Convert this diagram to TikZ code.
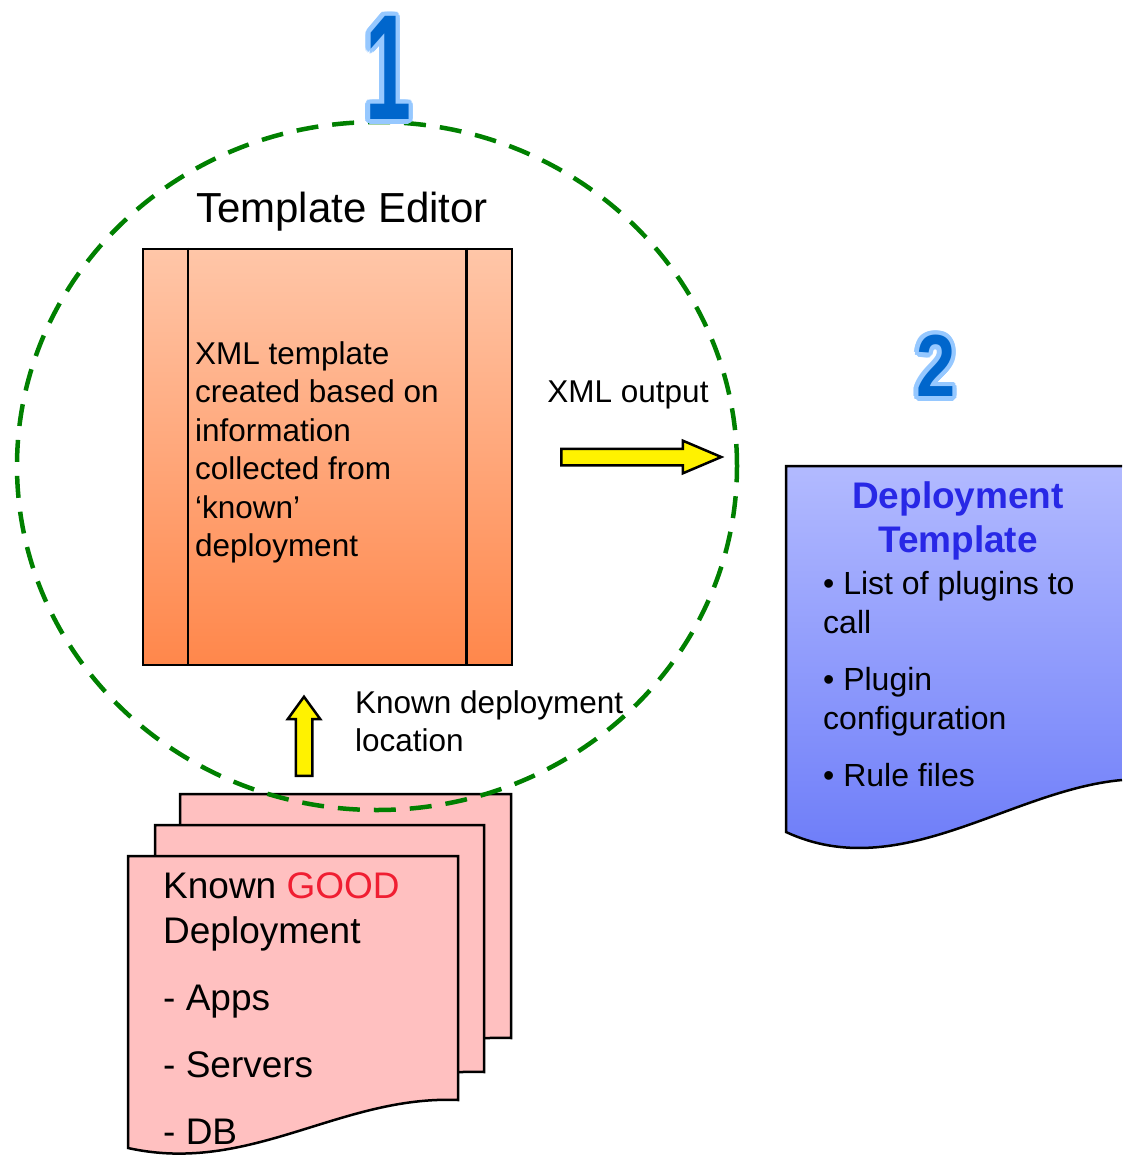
\documentclass[tikz,border=0pt]{standalone}
\usepackage{fontspec}
\setmainfont{Liberation Sans}
\usetikzlibrary{shapes.arrows,shapes.geometric}
\definecolor{ringgreen}{RGB}{0,128,0}
\definecolor{peach}{RGB}{255,198,168}
\definecolor{deeporange}{RGB}{255,135,75}
\definecolor{docpink}{RGB}{255,192,192}
\definecolor{goodred}{RGB}{240,30,50}
\definecolor{lavender}{RGB}{178,186,255}
\definecolor{periwinkle}{RGB}{104,120,248}
\definecolor{titleblue}{RGB}{40,40,230}
\definecolor{numblue}{RGB}{0,102,204}
\definecolor{numrim}{RGB}{150,200,255}
\begin{document}
\begin{tikzpicture}[x=1pt,y=-1pt,
	yarrow/.style={single arrow, draw=black, fill=yellow, line width=2.5pt, inner sep=7pt, single arrow head extend=8pt, anchor=tail},
	onedigit/.style={inner sep=0pt, font=\fontsize{150}{150}\selectfont\bfseries},
	twodigit/.style={inner sep=0pt, font=\fontsize{88}{88}\selectfont\bfseries},
	doc/.style={draw=black, line width=2.5pt, fill=docpink},
	txt/.style={inner sep=0pt, align=left, anchor=north west}]
	\useasboundingbox (0,0) rectangle (1122,1162);
	\draw[doc] (180,794) -- (511,794) -- (511,1038) .. controls (393,1033) and (303,1113) .. (180,1086) -- cycle;
	\draw[doc] (155,825) -- (484,825) -- (484,1072) .. controls (366,1067) and (276,1147) .. (155,1120) -- cycle;
	\draw[doc] (128,856) -- (458,856) -- (458,1100) .. controls (340,1095) and (250,1175) .. (128,1148) -- cycle;
	\node[txt, font=\fontsize{37}{45}\selectfont] (goodtext) at (163,872) {Known \textcolor{goodred}{GOOD}\\Deployment\\[22pt]- Apps\\[22pt]- Servers\\[22pt]- DB};
	\node[draw, line width=2.5pt, top color=peach, bottom color=deeporange, minimum width=369pt, minimum height=416pt, inner sep=0pt] (editor) at (327.5,457) {};
	\draw[line width=2.5pt] ([xshift=46pt]editor.north west) -- ([xshift=46pt]editor.south west);
	\draw[line width=2.5pt] ([xshift=-47pt]editor.north east) -- ([xshift=-47pt]editor.south east);
	\node[txt, font=\fontsize{31.5}{38.5}\selectfont] (editortext) at (195,341) {XML template\\created based on\\information\\collected from\\‘known’\\deployment};
	\node[anchor=base, inner sep=0pt, font=\fontsize{42}{50}\selectfont] (editorlabel) at (342,222) {Template Editor};
	\node[anchor=base, inner sep=0pt, font=\fontsize{31.5}{38}\selectfont] (xmlout) at (628,402) {XML output};
	\node[txt, font=\fontsize{31.5}{38}\selectfont] (knownlabel) at (355,690) {Known deployment\\location};
	\node[yarrow, minimum height=160pt, single arrow tip angle=46] (outarrow) at (560,457) {};
	\node[yarrow, minimum height=79pt, shape border rotate=90, single arrow tip angle=72] (uparrow) at (304,777) {};
	\node[ellipse, draw=ringgreen, line width=4.5pt, dash pattern=on 22pt off 14pt, minimum width=720pt, minimum height=688pt, inner sep=0pt, outer sep=0pt] (ring) at (377,466) {};
	\shade[top color=lavender, bottom color=periwinkle] (786,466) -- (1122,466) -- (1122,780) .. controls (1010,790) and (900,885) .. (786,832) -- cycle;
	\draw[line width=2.5pt] (1122,466) -- (786,466) -- (786,832) .. controls (900,885) and (1010,790) .. (1122,780);
	\node[font=\fontsize{37}{44}\selectfont\bfseries, text=titleblue, align=center, inner sep=0pt, anchor=north] (tpltitle) at (958,481) {Deployment\\Template};
	\node[txt, font=\fontsize{32}{39}\selectfont] (tplitems) at (823,571) {• List of plugins to\\call\\[18pt]• Plugin\\configuration\\[18pt]• Rule files};
	\coordinate (one) at (388,68);
	\foreach \a in {0,20,...,340}
		\node[onedigit, text=numrim] at ([shift={(\a:4.5pt)}]one) {\scalebox{0.55}[1]{1}};
	\node[onedigit, text=numblue] (stepone) at (one) {\scalebox{0.55}[1]{1}};
	\coordinate (two) at (936,366);
	\foreach \a in {0,20,...,340}
		\node[twodigit, text=numrim] at ([shift={(\a:4.5pt)}]two) {\scalebox{0.8}[1]{2}};
	\node[twodigit, text=numblue] (steptwo) at (two) {\scalebox{0.8}[1]{2}};
\end{tikzpicture}
\end{document}
